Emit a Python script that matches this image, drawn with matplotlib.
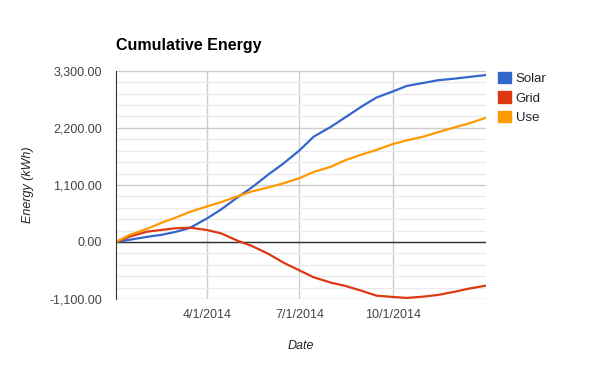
import pandas as pd
import matplotlib
matplotlib.use("Agg")
import matplotlib.pyplot as plt
from matplotlib.patches import Patch
from matplotlib.ticker import FuncFormatter, MultipleLocator

plt.rcParams["font.family"] = ["Liberation Sans", "DejaVu Sans"]

# values, kWh cumulative
dates = [
    "2014-01-01", "2014-01-15", "2014-02-01", "2014-02-15", "2014-03-01",
    "2014-03-15", "2014-04-01", "2014-04-15", "2014-05-01", "2014-05-15",
    "2014-06-01", "2014-06-15", "2014-07-01", "2014-07-15", "2014-08-01",
    "2014-08-15", "2014-09-01", "2014-09-15", "2014-10-01", "2014-10-15",
    "2014-11-01", "2014-11-15", "2014-12-01", "2014-12-15", "2014-12-31",
]
solar = [0, 44, 100, 138, 195, 270, 455, 630, 860, 1050, 1310, 1510, 1765,
         2030, 2220, 2400, 2620, 2785, 2902, 3010, 3070, 3120, 3150, 3182, 3217]
grid = [0, 105, 200, 232, 265, 276, 231, 165, 25, -75, -235, -395, -547,
        -680, -784, -845, -945, -1035, -1060, -1079, -1052, -1020, -960, -900, -845]
use = [0, 140, 255, 370, 470, 580, 686, 770, 880, 975, 1055, 1130, 1230,
       1350, 1450, 1575, 1690, 1775, 1888, 1960, 2035, 2120, 2210, 2285, 2389]

series_names = ["Solar", "Grid", "Use"]
colors = ["#3366cc", "#dc3912", "#ff9900"]
tick_dates = ["2014-04-01", "2014-07-01", "2014-10-01"]
tick_labels = ["4/1/2014", "7/1/2014", "10/1/2014"]

x = pd.to_datetime(dates)

fig = plt.figure(figsize=(6, 3.71), dpi=100)
ax = fig.add_axes([0.193, 0.194, 0.617, 0.615])

for vals, c in zip([solar, grid, use], colors):
    ax.plot(x, vals, color=c, lw=1.6, solid_joinstyle="round")

ax.set_xlim(pd.Timestamp("2014-01-01"), pd.Timestamp("2015-01-01"))
ax.set_ylim(-1100, 3300)
ax.yaxis.set_major_locator(MultipleLocator(1100))
ax.yaxis.set_minor_locator(MultipleLocator(220))
ax.yaxis.set_major_formatter(FuncFormatter(lambda v, p: f"{v:,.2f}"))
ax.set_xticks(pd.to_datetime(tick_dates))
ax.set_xticklabels(tick_labels)

ax.grid(which="major", axis="both", color="#cccccc", lw=1)
ax.grid(which="minor", axis="y", color="#ebebeb", lw=1)
ax.set_axisbelow(True)
ax.axhline(0, color="#333333", lw=1, zorder=1.5)

for s in ["top", "right", "bottom"]:
    ax.spines[s].set_visible(False)
ax.spines["left"].set_color("#333333")
ax.tick_params(which="both", length=0, labelsize=9, colors="#444444")
ax.tick_params(axis="y", pad=10)
ax.tick_params(axis="x", pad=7)

ax.set_ylabel("Energy (kWh)", fontsize=9, style="italic", color="#222222",
              labelpad=11)
ax.set_xlabel("Date", fontsize=9, style="italic", color="#222222",
              labelpad=14)

fig.text(0.193, 0.878, "Cumulative Energy", fontsize=11.5, weight="bold",
         color="#000000", va="center", ha="left")

handles = [Patch(facecolor=c, edgecolor=c) for c in colors]
leg = ax.legend(handles, series_names, loc="upper left",
                bbox_to_anchor=(1.011, 1.03), frameon=False, fontsize=9.5,
                handlelength=0.95, handleheight=0.95, handletextpad=0.4,
                labelspacing=0.47, borderaxespad=0.2)
for t in leg.get_texts():
    t.set_color("#222222")

fig.savefig("out.png", dpi=100)
